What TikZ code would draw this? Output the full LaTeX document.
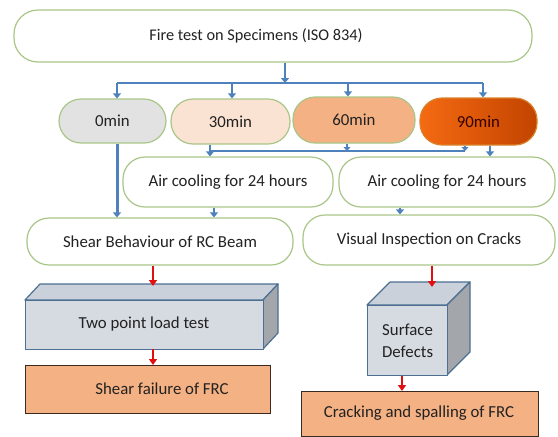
\documentclass[tikz,border=0pt]{standalone}
\usepackage{fontspec}
\setmainfont{Carlito}
\usetikzlibrary{arrows.meta}
\definecolor{gbord}{HTML}{A9C688}
\definecolor{bl}{HTML}{4F81BD}
\definecolor{rd}{HTML}{E01010}
\definecolor{peach}{HTML}{FBE3D3}
\definecolor{salmon}{HTML}{F4B183}
\definecolor{lgray}{HTML}{E2E2E2}
\definecolor{txt}{HTML}{222222}
\definecolor{boxf}{HTML}{D6DAE1}
\definecolor{boxt}{HTML}{CBD1DA}
\definecolor{boxr}{HTML}{A3A7AC}
\definecolor{boxb}{HTML}{4D6F93}
\definecolor{dbr}{HTML}{3B2A20}
\definecolor{orA}{HTML}{F56A12}
\definecolor{orB}{HTML}{C24400}
\definecolor{orD}{HTML}{D9822B}
\begin{document}
\begin{tikzpicture}[x=1pt,y=-1pt,
  pill/.style={draw=gbord,line width=1.2pt,rounded corners=22pt,font=\fontsize{16.8}{19}\selectfont,text=txt,inner sep=0pt},
  barr/.style={draw=bl,line width=2.6pt,-{Triangle[width=8pt,length=5pt]}},
  bline/.style={draw=bl,line width=2pt},
  rarr/.style={draw=rd,line width=2.2pt,-{Triangle[width=8pt,length=6pt]}},
  flat/.style={draw=dbr,line width=1.2pt,fill=salmon},
  face/.style={draw=boxb,line width=1.2pt,line join=round},
  lab/.style={font=\fontsize{16.8}{19}\selectfont,text=txt}]
\useasboundingbox (0,0) rectangle (558,437);
% top
\node[pill,minimum width=518pt,minimum height=52pt,rounded corners=24pt,font=\fontsize{16.3}{19}\selectfont] (top) at (273,36) {Fire test on Specimens (ISO 834)\hspace*{34pt}};
% min nodes
\node[pill,fill=lgray,minimum width=107pt,minimum height=44pt] (m0) at (112.5,121) {0min};
\node[pill,fill=peach,minimum width=119pt,minimum height=45pt] (m30) at (230.5,121.5) {30min};
\node[pill,fill=salmon,minimum width=122pt,minimum height=46pt] (m60) at (354,120) {60min};
\node[pill,draw=orD,left color=orA,right color=orB,minimum width=117pt,minimum height=47pt,text=black!80!red] (m90) at (478.5,121.5) {90min};
% air cooling
\node[pill,fill=white,minimum width=210pt,minimum height=50pt] (ac1) at (228,182) {Air cooling for 24 hours};
\node[pill,fill=white,minimum width=216pt,minimum height=50pt] (ac2) at (447,182) {Air cooling for 24 hours};
% level 3
\node[pill,fill=white,minimum width=266pt,minimum height=47pt] (sb) at (160,241.5) {Shear Behaviour of RC Beam};
\node[pill,fill=white,minimum width=252pt,minimum height=50pt] (vi) at (429,240) {Visual Inspection on Cracks};
% 3D beam
\path[face,fill=boxt] (25,300) -- (40,284) -- (278,284) -- (263,300) -- cycle;
\path[face,fill=boxr] (263,300) -- (278,284) -- (278,333) -- (263,349) -- cycle;
\node[face,fill=boxf,minimum width=238pt,minimum height=49pt,inner sep=0pt,anchor=north west] (tp) at (25,300) {};
\node[lab] at (144,324.5) {Two point load test};
% shear failure
\node[flat,minimum width=245pt,minimum height=48pt,inner sep=0pt,anchor=north west] (sf) at (25,365) {};
\node[lab] at (162,389) {Shear failure of FRC};
% cube
\path[face,fill=boxt] (367,305) -- (390,282) -- (470,282) -- (447,305) -- cycle;
\path[face,fill=boxr] (447,305) -- (470,282) -- (470,352) -- (447,375) -- cycle;
\node[face,fill=boxf,minimum width=80pt,minimum height=70pt,inner sep=0pt,anchor=north west,align=center,lab] (sd) at (367,305) {Surface\\[3pt]Defects};
% cracking
\node[flat,minimum width=237pt,minimum height=45pt,inner sep=0pt,anchor=north west] (cr) at (301,391) {};
\node[lab] at (419,413) {Cracking and spalling of FRC};
% blue connectors
\coordinate (bus) at (285,83);
\draw[barr] (top.south -| bus) -- (bus);
\draw[bline] (117,83) -- (483,83);
\foreach \x/\n in {117/m0,232/m30,348/m60,483/m90}
  \draw[barr,line width=2.2pt] (\x,83) -- (\x,0 |- \n.north);
\draw[bline] (210,151) -- (465,151);
\draw[barr] (210,0 |- m30.south) -- (210,0 |- ac1.north);
\draw[barr,line width=2.2pt,-{Triangle[width=7pt,length=4pt]}] (347,0 |- m60.south) -- (347,151);
\draw[barr,line width=2.2pt,-{Triangle[width=7pt,length=4pt]}] (465,0 |- m90.south) -- (465,151);
\draw[barr] (490,0 |- m90.south) -- (490,0 |- ac2.north);
\draw[barr,line width=3pt] (117,0 |- m0.south) -- (117,0 |- sb.north);
\draw[barr] (214,0 |- ac1.south) -- (214,0 |- sb.north);
\draw[barr] (400,0 |- ac2.south) -- (400,0 |- vi.north);
% red arrows
\draw[rarr] (153,0 |- sb.south) -- (153,286);
\draw[rarr] (153,349) -- (153,0 |- sf.north);
\draw[rarr] (432,0 |- vi.south) -- (432,287);
\draw[rarr] (402,0 |- sd.south) -- (402,0 |- cr.north);
\end{tikzpicture}
\end{document}
